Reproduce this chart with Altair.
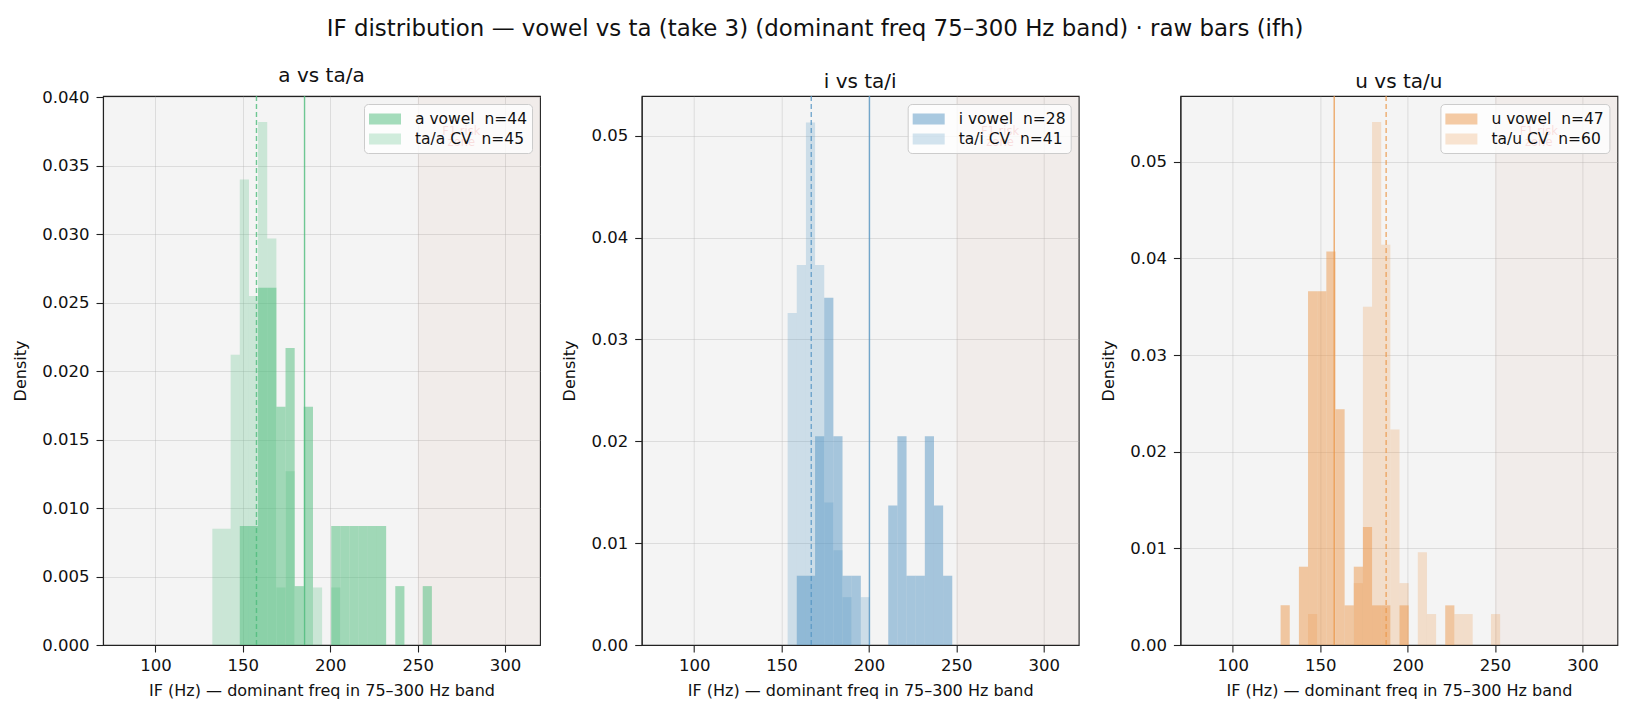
import altair as alt
import pandas as pd

TITLE = "IF distribution — vowel vs ta (take 3) (dominant freq 75–300 Hz band) · raw bars (ifh)"
X_TITLE = "IF (Hz) — dominant freq in 75–300 Hz band"
Y_TITLE = "Density"
X_TICKS = [100, 150, 200, 250, 300]
F1_ZONE_START = [250]
F1_ZONE_END = [320]
F1_LABEL = ["F1 risk\nzone"]
F1_LABEL_X = [275]

VOWELS = ["a", "i", "u"]
N_VOWEL = [44, 28, 47]
N_CV = [45, 41, 60]

# shared histogram bin edges (Hz)
BIN_EDGES = [127.33, 132.56, 137.79, 143.02, 148.26, 153.49, 158.72, 163.95,
             169.19, 174.42, 179.65, 184.88, 190.12, 195.35, 200.58, 205.81,
             211.05, 216.28, 221.51, 226.74, 231.98, 237.21, 242.44, 247.67,
             252.91, 258.14]

# density of each bin (25 bins)
DENS_A_VOWEL = [0, 0, 0, 0, 0.0087, 0.0087, 0.0261, 0.0261, 0.0174, 0.0217, 0.0043, 0.0174,
                0, 0, 0.0087, 0.0087, 0.0087, 0.0087, 0.0087, 0.0087, 0, 0.0043, 0, 0, 0.0043]
DENS_A_CV = [0, 0.0085, 0.0085, 0.0212, 0.0340, 0.0255, 0.0382, 0.0297, 0.0042, 0.0127, 0, 0,
             0.0042, 0, 0.0042, 0, 0, 0, 0, 0, 0, 0, 0, 0, 0]
DENS_I_VOWEL = [0, 0, 0, 0, 0, 0, 0.0068, 0.0068, 0.0205, 0.0341, 0.0205, 0.0068, 0.0068,
                0, 0, 0, 0.0137, 0.0205, 0.0068, 0.0068, 0.0205, 0.0137, 0.0068, 0, 0]
DENS_I_CV = [0, 0, 0, 0, 0, 0.0326, 0.0373, 0.0513, 0.0373, 0.0140, 0.0093, 0.0047, 0,
             0.0047, 0, 0, 0, 0, 0, 0, 0, 0, 0, 0, 0]
DENS_U_VOWEL = [0.0041, 0, 0.0081, 0.0366, 0.0366, 0.0407, 0.0244, 0.0041, 0.0081, 0.0122,
                0.0041, 0.0041, 0, 0.0041, 0, 0, 0, 0, 0.0041, 0, 0, 0, 0, 0, 0]
DENS_U_CV = [0, 0, 0, 0.0032, 0, 0, 0, 0, 0.0064, 0.0350, 0.0541, 0.0414, 0.0223, 0.0064,
             0, 0.0096, 0.0032, 0, 0, 0.0032, 0.0032, 0, 0, 0.0032, 0]

DENS_VOWEL = [DENS_A_VOWEL, DENS_I_VOWEL, DENS_U_VOWEL]
DENS_CV = [DENS_A_CV, DENS_I_CV, DENS_U_CV]

MEAN_VOWEL = [185.3, 200.3, 158.0]
MEAN_CV = [157.8, 167.0, 187.7]

Y_TICKS = [[0, 0.005, 0.010, 0.015, 0.020, 0.025, 0.030, 0.035, 0.040],
           [0, 0.01, 0.02, 0.03, 0.04, 0.05],
           [0, 0.01, 0.02, 0.03, 0.04, 0.05]]
Y_MAX = [0.0401, 0.0539, 0.0568]
Y_FMT = [".3f", ".2f", ".2f"]
X_DOMAIN = [70, 320]

# styles
BASE_RGB = [(76, 187, 122), (85, 150, 196), (235, 152, 75)]
FONT = "DejaVu Sans"
W, H = 437, 549
SHADE = "rgba(204,104,64,0.05)"
NB2 = "\u00a0\u00a0"


def panel(i):
    v = VOWELS[i]
    lab_v = f"{v} vowel{NB2}n={N_VOWEL[i]}"
    lab_c = f"ta/{v} CV{NB2}n={N_CV[i]}"
    rows = []
    for lab, dens in ((lab_v, DENS_VOWEL[i]), (lab_c, DENS_CV[i])):
        for k, d in enumerate(dens):
            if d > 0:
                rows.append({"lo": BIN_EDGES[k], "hi": BIN_EDGES[k + 1],
                             "density": d, "zero": 0, "series": lab})
    bars_df = pd.DataFrame(rows)
    r, g, b = BASE_RGB[i]
    col_v = f"rgba({r},{g},{b},0.5)"
    col_c = f"rgba({r},{g},{b},0.25)"
    col_line = f"rgba({r},{g},{b},0.8)"

    xscale = alt.Scale(domain=X_DOMAIN, nice=False, zero=False)
    yscale = alt.Scale(domain=[0, Y_MAX[i]], nice=False, zero=False)

    def xenc(field):
        return alt.X(field, scale=xscale,
                     axis=alt.Axis(values=X_TICKS, format="d", title=X_TITLE, grid=True,
                                   labelPadding=5, titlePadding=9))

    shade = alt.Chart(pd.DataFrame({"x0": F1_ZONE_START, "x1": F1_ZONE_END})).mark_rect(
        fill=SHADE).encode(
        x=xenc("x0:Q"), x2="x1:Q",
        y=alt.value(0), y2=alt.value(H))

    bars = alt.Chart(bars_df).mark_rect().encode(
        x=xenc("lo:Q"),
        x2="hi:Q",
        y=alt.Y("density:Q", scale=yscale,
                axis=alt.Axis(values=Y_TICKS[i], format=Y_FMT[i], title=Y_TITLE, grid=True)),
        y2="zero:Q",
        color=alt.Color("series:N",
                        scale=alt.Scale(domain=[lab_v, lab_c], range=[col_v, col_c]),
                        legend=alt.Legend(title=None, orient="top-right", offset=8,
                                          symbolType="M-1.6,-0.55H1.6V0.55H-1.6Z", symbolSize=400,
                                          symbolOffset=6,
                                          symbolStrokeWidth=0, labelFontSize=15.5, labelFont=FONT,
                                          labelColor="#111", labelOffset=20,
                                          fillColor="rgba(255,255,255,0.8)",
                                          strokeColor="#cccccc", cornerRadius=4,
                                          padding=5, rowPadding=1)),
    )

    rule_v = alt.Chart(pd.DataFrame({"m": [MEAN_VOWEL[i]]})).mark_rule(
        color=col_line, strokeWidth=1.4).encode(x=xenc("m:Q"))
    rule_c = alt.Chart(pd.DataFrame({"m": [MEAN_CV[i]]})).mark_rule(
        color=col_line, strokeWidth=1.4, strokeDash=[5, 3]).encode(x=xenc("m:Q"))

    f1 = alt.Chart(pd.DataFrame({"x": F1_LABEL_X, "t": F1_LABEL})).mark_text(
        lineBreak="\n", fontSize=11.5, font=FONT, color="#d62728", opacity=0.75,
        align="center", baseline="middle", lineHeight=11).encode(
        x=xenc("x:Q"), y=alt.value(36), text="t:N")

    return alt.layer(shade, bars, rule_v, rule_c, f1).properties(
        width=W, height=H,
        title=alt.TitleParams(f"{v} vs ta/{v}", fontSize=20, font=FONT,
                              fontWeight="normal", color="#111", anchor="middle", offset=3))


chart = alt.hconcat(panel(0), panel(1), panel(2), spacing=101.7, bounds="flush").resolve_scale(
    color="independent", x="independent", y="independent"
).resolve_legend(color="independent").properties(
    title=alt.TitleParams(TITLE, fontSize=22.9, font=FONT, fontWeight="normal", color="#111",
                          anchor="middle", offset=24.5),
    padding={"left": 12, "top": 18, "right": 10, "bottom": 10},
    background="white",
).configure_view(
    fill="#f4f4f4", stroke="#222222", strokeWidth=1.1
).configure_axis(
    domainColor="#222222", domainWidth=1.1, tickColor="#222222", tickWidth=1.1, tickSize=7,
    labelPadding=7, labelFont=FONT, labelFontSize=16.5, labelColor="#111",
    titleFont=FONT, titleFontSize=16, titleFontWeight="normal", titleColor="#111",
    titlePadding=13, gridColor="#b0b0b0", gridOpacity=0.35, gridWidth=1, zindex=1
)

chart.save("out.html", embed_options={"renderer": "svg", "actions": False})
